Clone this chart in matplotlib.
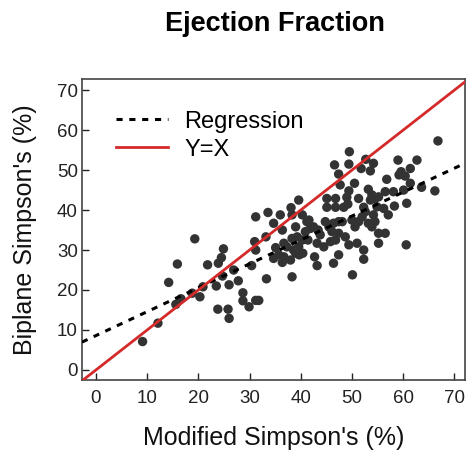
import matplotlib
matplotlib.use("Agg")
import matplotlib.pyplot as plt
import numpy as np

plt.rcParams['font.family'] = ['Liberation Sans', 'DejaVu Sans']

# Modified Simpson's (%) vs Biplane Simpson's (%)
modified = [
    9.1, 12.1, 14.2, 15.9, 15.6, 16.6, 19.3, 18.8, 20.3, 20.9, 21.8, 23.5, 23.9, 24.5,
    24.9, 24.7, 23.8, 25.8, 26.0, 26.0, 26.9, 27.8, 28.7, 28.7, 29.9, 30.4, 31.2, 31.8,
    31.0, 31.2, 31.2, 33.2, 33.6, 33.3,
    34.7, 34.7, 35.1, 35.7, 36.0, 36.4, 36.4, 36.7, 36.7, 37.3, 38.0, 38.1, 38.3, 38.3,
    38.3, 38.6, 39.0, 39.0, 39.3, 39.6, 39.6, 39.7, 40.3, 40.3, 40.4, 40.9, 41.2, 41.4,
    41.6, 41.9, 42.7, 43.2, 43.2, 43.4, 43.8, 44.5, 44.8, 45.1, 45.1, 45.5, 46.1, 46.4,
    46.4, 46.6, 46.8, 46.8, 46.8, 47.4, 47.4, 47.4, 47.4, 47.7, 48.4, 49.0, 49.2, 49.4,
    49.4, 49.4, 49.5, 50.0, 50.1, 50.5, 50.6, 51.0, 51.3, 51.3, 51.8, 52.3, 52.3, 52.3,
    52.7, 53.2, 53.2, 53.6, 53.9, 54.2, 54.2, 54.5, 54.9, 55.2, 55.2, 56.2, 56.5, 56.5,
    56.8, 57.1, 58.1, 58.3, 59.0, 59.6, 60.4, 60.6, 60.7, 61.4, 61.4, 62.7, 63.6, 66.2,
    66.8, 59.2, 53.6, 54.5, 60.1, 42.5, 45.8, 48.7, 52.0, 52.6, 53.9, 55.2, 48.1,
]
biplane = [
    7.1, 11.7, 21.9, 26.5, 16.4, 17.8, 32.8, 19.2, 18.3, 20.8, 26.3, 21.0, 26.7, 28.1,
    30.3, 23.5, 15.2, 15.2, 12.9, 21.3, 25.0, 22.3, 19.3, 17.3, 15.8, 26.1, 17.4, 17.4,
    32.1, 38.3, 30.0, 33.3, 39.4, 22.8,
    36.7, 27.9, 30.6, 28.8, 38.8, 26.9, 35.0, 31.7, 28.3, 30.8, 27.5, 40.6, 38.8, 32.9,
    23.3, 30.0, 35.8, 29.2, 33.3, 42.5, 30.8, 28.8, 38.8, 32.5, 29.2, 34.6, 37.1, 32.5,
    37.5, 35.4, 28.3, 31.7, 26.1, 35.0, 33.8, 30.8, 37.1, 42.9, 40.7, 35.8, 34.6, 36.7,
    26.7, 51.3, 42.9, 40.7, 32.5, 49.0, 37.1, 34.2, 28.8, 46.3, 40.7, 43.2, 41.5, 44.8,
    51.5, 31.3, 54.6, 37.5, 23.8, 46.7, 35.8, 31.7, 42.9, 37.1, 50.4, 40.7, 30.0, 27.7,
    52.7, 45.2, 36.7, 49.8, 35.8, 51.7, 38.8, 42.9, 40.8, 34.2, 31.7, 40.4, 44.6, 34.2,
    47.7, 38.8, 44.6, 41.0, 52.5, 49.6, 48.5, 31.3, 41.7, 50.4, 46.7, 52.5, 45.7, 44.8,
    57.3, 48.8, 42.5, 37.1, 45.0, 35.8, 32.1, 33.3, 38.3, 39.6, 43.8, 43.3, 37.1,
]

reg_slope = 0.598
reg_intercept = 8.6

x_ticks = [0, 10, 20, 30, 40, 50, 60, 70]
y_ticks = [0, 10, 20, 30, 40, 50, 60, 70]
xlim = (-2.73, 72.1)
ylim = (-2.5, 72.75)

fig = plt.figure(figsize=(4.66, 4.55), dpi=100)
ax = fig.add_axes([0.176, 0.165, 0.822, 0.661])

ax.scatter(modified, biplane, s=46, color='#333333', edgecolors='none', zorder=3)

xx = np.array(xlim)
ax.plot(xx, reg_intercept + reg_slope * xx, color='black', lw=2.2,
        linestyle=(0, (2.0, 2.2)), label='Regression', zorder=4)
ax.plot(xx, xx, color='#d42a2a', lw=2.0, label='Y=X', zorder=5)

ax.set_xlim(*xlim)
ax.set_ylim(*ylim)
ax.set_xticks(x_ticks)
ax.set_yticks(y_ticks)
ax.tick_params(direction='in', length=5, width=1, labelsize=13.5, colors='#222222')
ax.tick_params(axis='x', pad=7)
ax.tick_params(axis='y', pad=3)
for sp in ax.spines.values():
    sp.set_linewidth(1.2)
    sp.set_color('#444444')

ax.set_xlabel("Modified Simpson's (%)", fontsize=18, labelpad=14, color='#111111')
ax.set_ylabel("Biplane Simpson's (%)", fontsize=18, labelpad=14, color='#111111')
fig.suptitle("Ejection Fraction", fontsize=19.5, fontweight='bold', y=0.975, x=0.59)

ax.legend(loc='upper left', frameon=False, fontsize=17, handlelength=2.2,
          handletextpad=0.7, labelspacing=0.25, borderaxespad=0.3,
          bbox_to_anchor=(0.045, 0.95))

fig.savefig('out.png', dpi=100)
